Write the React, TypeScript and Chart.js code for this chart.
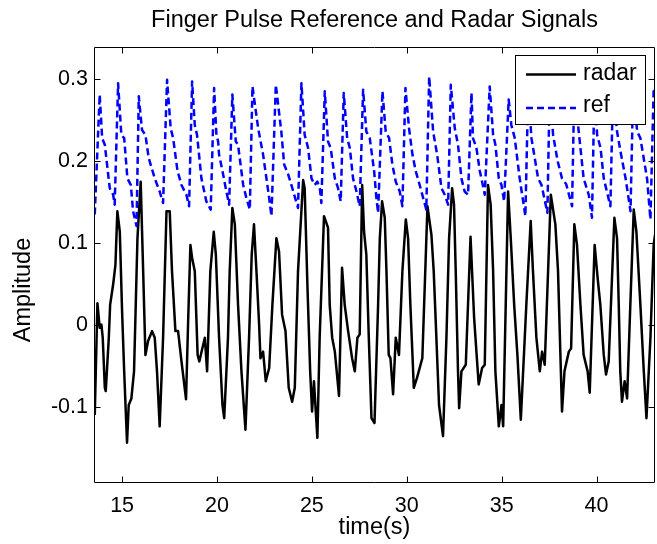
import React, { useEffect, useRef } from "react";
import { Chart, registerables } from "chart.js";

Chart.register(...registerables);

// ---- data ----
const radarT = [13.56,13.70,13.82,13.91,13.98,14.09,14.14,14.30,14.37,14.53,14.65,14.75,14.88,15.00,15.11,15.18,15.26,15.35,15.49,15.63,15.72,15.81,15.98,16.11,16.23,16.37,16.58,16.72,16.84,16.98,17.16,17.34,17.51,17.63,17.81,17.95,18.13,18.37,18.48,18.60,18.69,18.83,18.98,19.07,19.23,19.36,19.48,19.65,19.83,19.94,20.11,20.29,20.38,20.58,20.67,20.81,20.94,21.11,21.29,21.50,21.69,21.83,21.95,22.08,22.22,22.29,22.43,22.57,22.75,22.92,23.13,23.27,23.43,23.61,23.78,23.96,24.10,24.27,24.54,24.62,24.77,24.91,25.01,25.11,25.29,25.41,25.64,25.85,25.94,26.07,26.21,26.43,26.59,26.73,26.91,27.12,27.26,27.40,27.52,27.65,27.75,27.87,28.00,28.14,28.30,28.49,28.58,28.70,28.84,28.93,29.05,29.14,29.28,29.42,29.59,29.77,29.95,30.07,30.19,30.30,30.37,30.54,30.82,31.09,31.30,31.42,31.56,31.70,31.91,32.09,32.23,32.39,32.49,32.58,32.70,32.76,32.88,33.11,33.36,33.55,33.67,33.79,33.97,34.11,34.28,34.42,34.55,34.67,34.85,34.99,35.08,35.34,35.48,35.66,35.83,36.01,36.30,36.53,36.65,36.83,37.01,37.13,37.27,37.59,37.83,37.97,38.18,38.31,38.54,38.66,38.83,38.97,39.15,39.32,39.53,39.64,39.90,40.06,40.20,40.38,40.50,40.64,40.94,41.08,41.17,41.25,41.34,41.48,41.61,41.78,41.96,42.10,42.31,42.49,42.63,42.84,43.01,43.08];
const radarV = [-0.109,0.027,-0.003,0.001,-0.015,-0.076,-0.080,-0.015,0.025,0.050,0.074,0.139,0.114,0.017,-0.056,-0.097,-0.143,-0.097,-0.089,-0.056,0.025,0.106,0.175,0.066,-0.036,-0.019,-0.007,-0.015,-0.056,-0.123,-0.015,0.139,0.139,0.066,-0.007,-0.007,-0.044,-0.090,0.005,0.098,0.082,0.066,-0.036,-0.044,-0.028,-0.015,-0.056,0.066,0.114,0.086,-0.015,-0.097,-0.113,-0.015,0.066,0.143,0.123,0.025,-0.056,-0.127,-0.015,0.086,0.123,0.066,0.001,-0.040,-0.032,-0.068,-0.052,0.025,0.106,0.090,0.013,-0.007,-0.076,-0.093,-0.076,0.066,0.177,0.167,0.045,-0.056,-0.105,-0.068,-0.137,-0.015,0.133,0.119,0.025,-0.015,-0.032,-0.086,0.070,0.025,-0.007,-0.040,-0.056,-0.015,-0.011,0.171,0.114,0.086,-0.015,-0.113,-0.119,0.025,0.106,0.151,0.131,0.066,-0.036,-0.040,-0.084,-0.015,-0.036,0.066,0.129,0.106,0.025,-0.036,-0.076,-0.064,-0.040,0.145,0.110,0.066,-0.015,-0.097,-0.135,-0.015,0.106,0.167,0.147,0.066,-0.056,-0.101,-0.056,-0.048,0.108,0.009,-0.032,-0.072,-0.052,-0.048,0.171,0.147,0.066,-0.056,-0.123,-0.097,-0.123,0.163,0.106,0.025,-0.036,-0.115,0.025,0.127,0.066,-0.015,-0.056,-0.032,-0.048,0.159,0.123,0.066,-0.105,-0.056,-0.032,-0.028,0.123,0.098,0.025,-0.036,-0.056,-0.082,0.098,0.057,0.025,-0.036,-0.060,-0.044,0.131,0.106,0.025,-0.056,-0.093,-0.068,-0.089,0.025,0.141,0.114,0.025,-0.056,-0.113,-0.015,0.098,0.110];

const refT = [13.56,13.82,13.95,14.09,14.35,14.53,14.61,14.79,14.96,15.11,15.28,15.46,15.58,15.76,15.88,16.05,16.23,16.40,16.72,16.98,17.16,17.37,17.56,17.69,17.92,18.13,18.39,18.53,18.69,18.83,18.95,19.18,19.44,19.67,19.85,19.97,20.06,20.11,20.29,20.46,20.64,20.81,20.99,21.11,21.38,21.55,21.73,21.87,22.17,22.43,22.75,22.87,23.10,23.39,23.54,23.75,23.92,24.27,24.45,24.62,24.80,24.98,25.15,25.29,25.42,25.50,25.68,25.85,25.99,26.21,26.38,26.52,26.68,26.86,27.00,27.17,27.35,27.52,27.70,27.87,28.05,28.28,28.40,28.49,28.72,28.89,29.07,29.24,29.42,29.63,29.77,29.93,30.12,30.30,30.47,30.68,31.03,31.18,31.39,31.60,31.83,32.00,32.18,32.32,32.53,32.70,32.88,33.05,33.23,33.41,33.49,33.67,33.85,33.97,34.11,34.37,34.55,34.67,34.85,34.99,35.13,35.37,35.51,35.69,35.95,36.25,36.40,36.57,36.92,37.10,37.41,37.53,37.71,37.95,38.18,38.40,38.71,38.83,39.06,39.32,39.59,39.76,39.89,40.03,40.21,40.38,40.73,40.87,41.08,41.26,41.53,41.79,41.93,42.14,42.31,42.66,42.84,43.01,43.08];
const refV = [0.135,0.281,0.228,0.220,0.167,0.159,0.147,0.295,0.232,0.228,0.179,0.171,0.139,0.121,0.279,0.238,0.232,0.204,0.179,0.163,0.149,0.299,0.240,0.228,0.188,0.171,0.159,0.145,0.297,0.244,0.232,0.179,0.151,0.141,0.289,0.232,0.224,0.208,0.188,0.167,0.147,0.281,0.224,0.220,0.171,0.155,0.141,0.291,0.240,0.208,0.155,0.133,0.293,0.236,0.196,0.184,0.171,0.143,0.295,0.232,0.216,0.179,0.171,0.175,0.167,0.149,0.285,0.224,0.216,0.179,0.167,0.151,0.283,0.228,0.216,0.179,0.163,0.145,0.287,0.236,0.228,0.188,0.155,0.137,0.285,0.236,0.228,0.196,0.175,0.163,0.145,0.289,0.240,0.208,0.188,0.171,0.141,0.303,0.236,0.208,0.167,0.159,0.147,0.293,0.240,0.220,0.179,0.163,0.159,0.283,0.228,0.216,0.188,0.175,0.159,0.291,0.232,0.220,0.179,0.171,0.151,0.275,0.244,0.228,0.179,0.133,0.290,0.228,0.179,0.171,0.137,0.288,0.232,0.200,0.179,0.172,0.145,0.292,0.236,0.179,0.159,0.131,0.289,0.232,0.216,0.179,0.145,0.291,0.236,0.212,0.179,0.139,0.290,0.236,0.228,0.179,0.129,0.289,0.285];

const xTicks = [15, 20, 25, 30, 35, 40];
const yTicks = [-0.1, 0, 0.1, 0.2, 0.3];
const xRange = [13.52, 43.08];
const yRange = [-0.192, 0.339];
const titleText = "Finger Pulse Reference and Radar Signals";
const xLabel = "time(s)";
const yLabel = "Amplitude";
const seriesNames = ["radar", "ref"];

const FONT = "'Liberation Sans', Arial, Helvetica, sans-serif";
const BLUE = "#0000ff";
const DASH = [7, 4];

const matlabFrame = {
  id: "matlabFrame",
  afterDatasetsDraw(chart: any) {
    const { ctx, chartArea: a, scales } = chart;
    const L = Math.round(a.left) + 0.5;
    const R = Math.round(a.right) - 0.5;
    const T = Math.round(a.top) + 0.5;
    const B = Math.round(a.bottom) - 0.5;
    ctx.save();
    ctx.strokeStyle = "#000";
    ctx.lineWidth = 1;
    ctx.setLineDash([]);
    ctx.beginPath();
    ctx.rect(L, T, R - L, B - T);
    const tl = 6;
    xTicks.forEach((v) => {
      const px = Math.round(scales.x.getPixelForValue(v)) + 0.5;
      ctx.moveTo(px, B);
      ctx.lineTo(px, B - tl);
      ctx.moveTo(px, T);
      ctx.lineTo(px, T + tl);
    });
    yTicks.forEach((v) => {
      const py = Math.round(scales.y.getPixelForValue(v)) + 0.5;
      ctx.moveTo(L, py);
      ctx.lineTo(L + tl, py);
      ctx.moveTo(R, py);
      ctx.lineTo(R - tl, py);
    });
    ctx.stroke();

    // legend box (inside axes, top-right)
    const bx = 515.5, by = 55.5, bw = 130, bh = 69;
    ctx.fillStyle = "#fff";
    ctx.fillRect(bx, by, bw, bh);
    ctx.strokeStyle = "#000";
    ctx.lineWidth = 1;
    ctx.strokeRect(bx, by, bw, bh);

    ctx.lineWidth = 2.5;
    ctx.strokeStyle = "#000";
    ctx.beginPath();
    ctx.moveTo(526, 74.5);
    ctx.lineTo(576, 74.5);
    ctx.stroke();
    ctx.strokeStyle = BLUE;
    ctx.setLineDash(DASH);
    ctx.beginPath();
    ctx.moveTo(526, 108);
    ctx.lineTo(576, 108);
    ctx.stroke();
    ctx.setLineDash([]);

    ctx.fillStyle = "#000";
    ctx.font = `23px ${FONT}`;
    ctx.textAlign = "left";
    ctx.textBaseline = "middle";
    ctx.fillText(seriesNames[0], 583, 74);
    ctx.fillText(seriesNames[1], 583, 106);

    // y-axis label
    ctx.save();
    ctx.translate(23.7, 290);
    ctx.rotate(-Math.PI / 2);
    ctx.font = `23.5px ${FONT}`;
    ctx.textAlign = "center";
    ctx.textBaseline = "middle";
    ctx.fillText(yLabel, 0, 0);
    ctx.restore();

    ctx.restore();
  },
};

export default function App() {
  const ref = useRef<HTMLCanvasElement | null>(null);

  useEffect(() => {
    if (!ref.current) return;
    const radarData = radarT.map((t, i) => ({ x: t, y: radarV[i] }));
    const refData = refT.map((t, i) => ({ x: t, y: refV[i] }));
    const chart = new Chart(ref.current, {
      type: "line",
      data: {
        datasets: [
          {
            label: seriesNames[0],
            data: radarData,
            borderColor: "#000",
            borderWidth: 2.5,
            pointRadius: 0,
            tension: 0,
            fill: false,
            order: 1,
            borderJoinStyle: "round",
          },
          {
            label: seriesNames[1],
            data: refData,
            borderColor: BLUE,
            borderWidth: 2.5,
            borderDash: DASH,
            pointRadius: 0,
            tension: 0,
            fill: false,
            order: 0,
            borderJoinStyle: "round",
          },
        ],
      },
      plugins: [matlabFrame],
      options: {
        responsive: false,
        animation: false,
        events: [],
        layout: { padding: { left: 0, right: 2, top: 0, bottom: 0 } },
        plugins: {
          legend: { display: false },
          tooltip: { enabled: false },
          title: {
            display: true,
            fullSize: false,
            text: titleText,
            color: "#000",
            font: { family: FONT, size: 23.5, weight: "normal" },
            padding: { top: 6.2, bottom: 12.6 },
          },
        },
        scales: {
          x: {
            type: "linear",
            min: xRange[0],
            max: xRange[1],
            grid: { display: false, drawTicks: false, tickLength: 0 },
            border: { display: false },
            afterBuildTicks: (s: any) => {
              s.ticks = xTicks.map((v) => ({ value: v }));
            },
            afterFit: (s: any) => {
              s.height = 61;
            },
            ticks: {
              color: "#000",
              font: { family: FONT, size: 21.5 },
              padding: 10.5,
              maxRotation: 0,
              autoSkip: false,
              callback: (v: any) => String(v),
            },
            title: {
              display: true,
              text: xLabel,
              color: "#000",
              font: { family: FONT, size: 23.5 },
              padding: { top: 0, bottom: 2 },
            },
          },
          y: {
            type: "linear",
            min: yRange[0],
            max: yRange[1],
            grid: { display: false, drawTicks: false, tickLength: 0 },
            border: { display: false },
            afterBuildTicks: (s: any) => {
              s.ticks = yTicks.map((v) => ({ value: v }));
            },
            afterFit: (s: any) => {
              s.width = 94;
            },
            ticks: {
              color: "#000",
              font: { family: FONT, size: 21.5 },
              padding: 6,
              autoSkip: false,
              callback: (v: any) => String(v),
            },
          },
        },
      },
    });
    return () => chart.destroy();
  }, []);

  return (
    <div style={{ position: "fixed", left: 0, top: 0, width: 657, height: 544, background: "#fff" }}>
      <canvas ref={ref} width={657} height={544} style={{ display: "block" }} />
    </div>
  );
}
